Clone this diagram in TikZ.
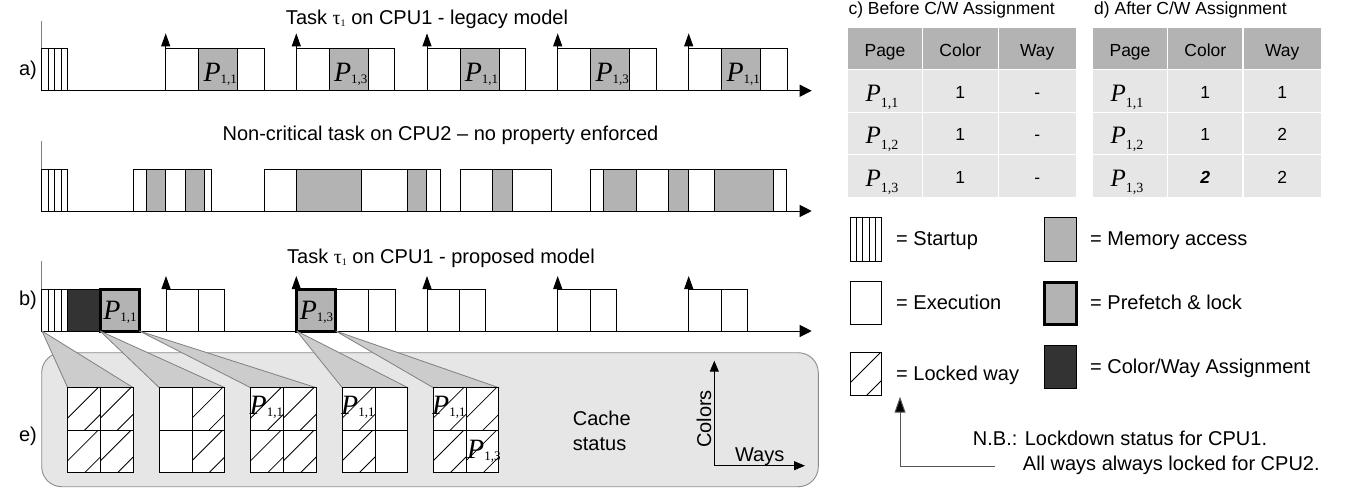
\documentclass[tikz,border=0pt]{standalone}
\usepackage{fontspec}
\setmainfont{Liberation Sans}
\newfontfamily\pfont{Liberation Serif}
\usetikzlibrary{arrows.meta}

\definecolor{memgray}{HTML}{B3B3B3}
\definecolor{darkbox}{HTML}{333333}
\definecolor{cachebg}{HTML}{E6E6E6}
\definecolor{cacheedge}{HTML}{8C8C8C}
\definecolor{projfill}{HTML}{CCCCCC}
\definecolor{projedge}{HTML}{808080}
\definecolor{thead}{HTML}{B3B3B3}
\definecolor{tbody}{HTML}{E6E6E6}
\definecolor{nbgray}{HTML}{555555}

\newcommand\PP[1]{{\pfont\fontsize{28}{28}\selectfont\itshape P}\raisebox{-2pt}{\pfont\fontsize{13}{13}\selectfont #1}}
\newcommand\PT[1]{{\pfont\fontsize{25}{25}\selectfont\itshape P}\raisebox{-6pt}{\pfont\fontsize{14}{14}\selectfont #1}}
\newcommand\tauone{{\pfont τ}\raisebox{-2pt}{\pfont\fontsize{10}{10}\selectfont 1}}
% hatched cell: left, top, right, bottom
\newcommand\hcell[4]{%
  \begin{scope}
    \clip (#1,#2) rectangle (#3,#4);
    \draw[hatchln] ({#1-30},{#4-12+30}) -- ({#1+60},{#4-12-60});
    \draw[hatchln] ({#1+17-30},{#4+30}) -- ({#1+17+60},{#4-60});
  \end{scope}}

\begin{document}
\begin{tikzpicture}[x=1pt,y=-1pt,
  boxline/.style={draw=black,line width=0.9pt},
  stripe/.style={draw=black,line width=0.7pt},
  tlaxis/.style={draw=black,line width=1pt,-{Triangle[length=12pt,width=12pt]}},
  jobarrow/.style={draw=black,line width=1pt,-{Triangle[length=13pt,width=9pt]}},
  smallarrow/.style={draw=black,line width=1pt,-{Triangle[length=11pt,width=9pt]}},
  leftaxis/.style={draw=gray,line width=0.8pt},
  lab/.style={font=\fontsize{20}{24}\selectfont,inner sep=0pt},
  tab/.style={font=\fontsize{17.5}{21}\selectfont,inner sep=0pt},
  hatchln/.style={draw=black,line width=0.8pt},
  gridln/.style={draw=black,line width=1pt},
  proj/.style={fill=projfill,draw=projedge,line width=0.8pt,line join=round},
  prefetch/.style={draw=black,line width=3pt,fill=memgray},
]
\useasboundingbox (0,0) rectangle (1364,491);

% ================= a) legacy model =================
\node[lab,anchor=base] (ta) at (427,24) {Task \tauone{} on CPU1 - legacy model};
\node[lab] (la) at (28,70) {a)};
\draw[leftaxis] (41.7,21) -- (41.7,90.7);
\draw[boxline] (41.7,48.3) rectangle (67,90.7);
\foreach \sx in {48.3,54.7,61} \draw[stripe] (\sx,48.3) -- (\sx,90.7);
\foreach \s/\lab in {165.7/{1,1},296.3/{1,3},427/{1,1},557.7/{1,3},688.7/{1,1}} {
  \draw[boxline] (\s,48.3) rectangle ({\s+33},90.7);
  \draw[boxline,fill=memgray] ({\s+33},48.3) rectangle ({\s+72},90.7);
  \draw[boxline] ({\s+72},48.3) rectangle ({\s+98.3},90.7);
  \node[inner sep=0pt,anchor=base] at ({\s+54.5},81.7) {\PP{\lab}};
}
\coordinate (a0) at (41.7,90.7);
\coordinate (a1) at (811.7,90.7);
\draw[tlaxis] (a0) -- (a1);
\foreach \s in {165.7,296.3,427,557.7,688.7}
  \draw[jobarrow] (\s,90.7) -- (\s,33.3);

% ================= non-critical task =================
\node[lab,anchor=base] (tn) at (440.5,140.7) {Non-critical task on CPU2 – no property enforced};
\draw[leftaxis] (41.7,140.7) -- (41.7,211);
\draw[boxline] (41.7,169) rectangle (67,211);
\foreach \sx in {48.3,54.7,61} \draw[stripe] (\sx,169) -- (\sx,211);
\foreach \xa/\xb/\f in {133.3/146.3/white,146.3/165.7/memgray,165.7/185.3/white,185.3/204.7/memgray,204.7/211.3/white,
  264/296.7/white,296.7/361.7/memgray,361.7/407.3/white,407.3/426.7/memgray,426.7/440.3/white,
  460/492.7/white,492.7/512/memgray,512/551.7/white,
  590.3/603.3/white,603.3/636/memgray,636/668.7/white,668.7/688.3/memgray,688.3/714.3/white,714.3/773.3/memgray,773.3/786.7/white}
  \draw[boxline,fill=\f] (\xa,169) rectangle (\xb,211);
\coordinate (n0) at (41.7,211);
\coordinate (n1) at (811.7,211);
\draw[tlaxis] (n0) -- (n1);

% ================= b) proposed model =================
\node[lab,anchor=base] (tb) at (441,263.3) {Task \tauone{} on CPU1 - proposed model};
\node[lab] (lb) at (28,300) {b)};
\draw[leftaxis] (41.7,260.7) -- (41.7,331);
\draw[boxline] (41.7,289) rectangle (67,331);
\foreach \sx in {48.3,54.7,61} \draw[stripe] (\sx,289) -- (\sx,331);
\draw[boxline,fill=darkbox] (67,289) rectangle (100,331);
\foreach \s in {166,427,557.7,688.7} {
  \draw[boxline] (\s,289) rectangle ({\s+32.7},331);
  \draw[boxline] ({\s+32.7},289) rectangle ({\s+58.5},331);
}
\draw[boxline] (335,289) rectangle (368.3,331);
\draw[boxline] (368.3,289) rectangle (395,331);
\coordinate (b0) at (41.7,331);
\coordinate (b1) at (811.7,331);
\draw[tlaxis] (b0) -- (b1);
\draw[prefetch] (100,289) rectangle (139,331);
\draw[prefetch] (296.3,289) rectangle (335,331);
\node[inner sep=0pt,anchor=base] at (120,319) {\PP{1,1}};
\node[inner sep=0pt,anchor=base] at (316.5,319) {\PP{1,3}};
\foreach \s in {166,296.3,427,557.7,688.7}
  \draw[jobarrow] (\s,331) -- (\s,276);

% ================= e) cache status =================
\node[lab] (le) at (28,436.7) {e)};
\draw[fill=cachebg,draw=cacheedge,line width=0.9pt,rounded corners=20pt] (41.7,352.7) rectangle (818.3,486.7);
\coordinate (p1) at (42,331);
\coordinate (p2) at (100,331);
\coordinate (p3) at (139.3,331);
\coordinate (p4) at (296.7,331);
\coordinate (p5) at (335.7,331);
\foreach \i/\gx in {1/67.7,2/159.3,3/250.7,4/342.3,5/433.3} {
  \coordinate (g\i l) at (\gx,387.7);
  \coordinate (g\i r) at ({\gx+65.6},387.7);
  \draw[proj] (p\i) -- (g\i l) -- (g\i r) -- cycle;
  \fill[white] (\gx,387.7) rectangle ({\gx+65.6},472.7);
}
% hatching
\foreach \gx in {67.7,250.7,433.3} {
  \hcell{\gx}{387.7}{\gx+32.8}{430}
  \hcell{\gx+32.8}{387.7}{\gx+65.6}{430}
  \hcell{\gx}{430}{\gx+32.8}{472.7}
  \hcell{\gx+32.8}{430}{\gx+65.6}{472.7}
}
\hcell{192.1}{387.7}{224.9}{430}
\hcell{192.1}{430}{224.9}{472.7}
\hcell{342.3}{387.7}{375.1}{430}
\hcell{342.3}{430}{375.1}{472.7}
\foreach \gx in {67.7,159.3,250.7,342.3,433.3} {
  \draw[gridln] (\gx,387.7) rectangle ({\gx+65.6},472.7);
  \draw[gridln] ({\gx+32.8},387.7) -- ({\gx+32.8},472.7);
  \draw[gridln] (\gx,430) -- ({\gx+65.6},430);
}
\node[inner sep=0pt,anchor=base west] at (249.5,414) {\PP{1,1}};
\node[inner sep=0pt,anchor=base west] at (341,414) {\PP{1,1}};
\node[inner sep=0pt,anchor=base west] at (432,414) {\PP{1,1}};
\node[inner sep=0pt,anchor=base west] at (467,458) {\PP{1,3}};
\node[lab,anchor=base west] (cache) at (572.7,425) {Cache};
\node[lab,anchor=base west] (status) at (572.7,450.7) {status};
\coordinate (ax0) at (714.3,465.7);
\coordinate (axc) at (714.3,360.7);
\coordinate (axw) at (805,465.7);
\draw[smallarrow] (ax0) -- (axc);
\draw[smallarrow] (ax0) -- (axw);
\node[lab,rotate=90] (colors) at (704,419) {Colors};
\node[lab,anchor=base] (ways) at (759.7,461.5) {Ways};

% ================= c) / d) tables =================
\node[tab,anchor=base west] (tc) at (848.3,14) {c) Before C/W Assignment};
\node[tab,anchor=base west] (td) at (1094,14) {d) After C/W Assignment};
\foreach \xa/\xb/\xc/\xd in {847.7/922.3/998.3/1076, 1092.7/1167.3/1242.7/1321} {
  \fill[thead] (\xa,27.7) rectangle (\xd,69.3);
  \fill[tbody] (\xa,69.3) rectangle (\xd,196.7);
  \draw[white,line width=1.6pt] (\xb,27.7) -- (\xb,196.7) (\xc,27.7) -- (\xc,196.7);
  \draw[white,line width=1.6pt] (\xa,69.3) -- (\xd,69.3) (\xa,112.3) -- (\xd,112.3) (\xa,154.3) -- (\xd,154.3);
}
\foreach \cx in {885,1130} {
  \node[tab,anchor=base] at (\cx,56.7) {Page};
  \node[tab,anchor=base] at (\cx+75.3,56.7) {Color};
  \node[tab,anchor=base] at (\cx+152.2,56.7) {Way};
  \node[inner sep=0pt,anchor=base] at (\cx-3,101.7) {\PT{1,1}};
  \node[inner sep=0pt,anchor=base] at (\cx-3,143.7) {\PT{1,2}};
  \node[inner sep=0pt,anchor=base] at (\cx-3,186) {\PT{1,3}};
  \node[tab,anchor=base] at (\cx+75.3,98.3) {1};
  \node[tab,anchor=base] at (\cx+75.3,140.5) {1};
}
\node[tab,anchor=base] at (960.3,183) {1};
\node[tab,anchor=base] at (1205.3,183) {\bfseries\itshape 2};
\foreach \yy in {98.3,140.5,183} \node[tab,anchor=base] at (1037.2,\yy) {-};
\node[tab,anchor=base] at (1282.2,98.3) {1};
\node[tab,anchor=base] at (1282.2,140.5) {2};
\node[tab,anchor=base] at (1282.2,183) {2};

% ================= legend =================
\draw[boxline] (850,217.7) rectangle (881.7,261);
\foreach \k in {1,2,3,4} \draw[stripe] ({850+6.34*\k},217.7) -- ({850+6.34*\k},261);
\node[lab,anchor=base west] (lgs) at (896,245) {= Startup};
\draw[boxline] (850,281.7) rectangle (881.7,324.3);
\node[lab,anchor=base west] (lge) at (896,309) {= Execution};
\hcell{850}{352.7}{881.7}{395}
\draw[boxline] (850,352.7) rectangle (881.7,395);
\node[lab,anchor=base west] (lgl) at (896,380) {= Locked way};
\draw[boxline,fill=memgray] (1044.3,217.7) rectangle (1076.3,261);
\node[lab,anchor=base west] (lgm) at (1090,245) {= Memory access};
\draw[prefetch] (1044.3,282) rectangle (1076.3,324);
\node[lab,anchor=base west] (lgp) at (1090,309) {= Prefetch \& lock};
\draw[boxline,fill=darkbox] (1044.3,345.3) rectangle (1076.3,388.3);
\node[lab,anchor=base west] (lgc) at (1090,373) {= Color/Way Assignment};
\coordinate (nb0) at (995,466);
\coordinate (nb1) at (900,466);
\coordinate (nb2) at (900,396.7);
\draw[draw=nbgray,line width=1pt,-{Triangle[length=16pt,width=11pt,fill=black]}] (nb0) -- (nb1) -- (nb2);
\node[lab,anchor=base west] (nbl1) at (972.7,445) {N.B.: Lockdown status for CPU1.};
\node[lab,anchor=base west] (nbl2) at (1022.7,470.7) {All ways always locked for CPU2.};
\end{tikzpicture}
\end{document}
